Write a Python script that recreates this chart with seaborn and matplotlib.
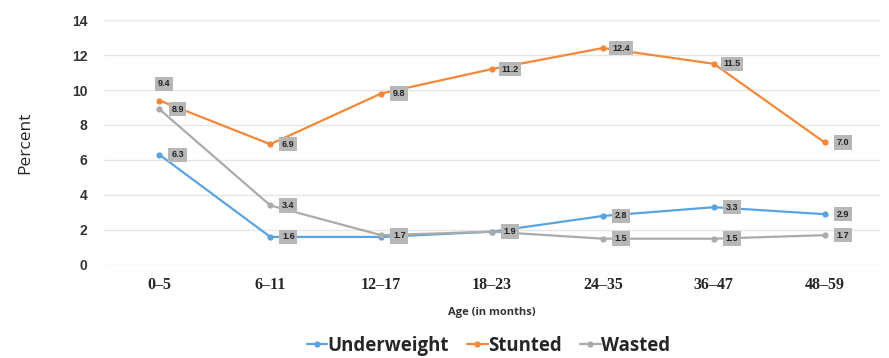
import matplotlib
matplotlib.use("Agg")
import matplotlib.pyplot as plt
import seaborn as sns
import pandas as pd

ages = ["0–5", "6–11", "12–17", "18–23", "24–35", "36–47", "48–59"]
underweight = [6.3, 1.6, 1.6, 1.9, 2.8, 3.3, 2.9]
stunted = [9.4, 6.9, 9.8, 11.2, 12.4, 11.5, 7.0]
wasted = [8.9, 3.4, 1.7, 1.9, 1.5, 1.5, 1.7]
series_names = ["Underweight", "Stunted", "Wasted"]
colors = ["#5BA3E0", "#F4883A", "#ABABAB"]

rows = []
for name, vals in zip(series_names, [underweight, stunted, wasted]):
    for i, (a, v) in enumerate(zip(ages, vals)):
        rows.append({"idx": i, "Age": a, "Percent": v, "Series": name})
df = pd.DataFrame(rows)

sns.set_style("white")
fig = plt.figure(figsize=(8.89, 3.58), dpi=100)
ax = fig.add_axes([0.117, 0.26, 0.873, 0.684])

sns.lineplot(data=df, x="idx", y="Percent", hue="Series", palette=colors,
             hue_order=series_names, marker="o", markersize=4.5,
             markeredgewidth=0, linewidth=1.6, ax=ax, legend=True)

ax.set_xlim(-0.5, 6.5)
ax.set_ylim(0, 14)
ax.set_yticks(range(0, 15, 2))
ax.set_xticks(range(len(ages)))
ax.set_xticklabels(ages, fontfamily="Liberation Serif", fontweight="bold", fontsize=11.5)
for t in ax.get_yticklabels():
    t.set_fontfamily("Liberation Sans")
    t.set_fontweight("bold")
    t.set_fontsize(10)
    t.set_color("#333333")
ax.tick_params(axis="x", length=0, pad=9)
ax.tick_params(axis="y", length=0, pad=12)
ax.grid(axis="y", color="#E6E6E6", linewidth=1)
for s in ax.spines.values():
    s.set_visible(False)

ax.set_xlabel("Age (in months)", fontfamily="Open Sans", fontweight="bold",
              fontsize=8, color="#333333", labelpad=10)
ax.set_ylabel("Percent", fontfamily="Open Sans", fontsize=12.5, labelpad=28)

# value labels in grey boxes beside each point
box = dict(boxstyle="square,pad=0.3", fc="#B7B7B7", ec="none")
for name, vals in zip(series_names, [underweight, stunted, wasted]):
    for i, v in enumerate(vals):
        if name == "Stunted" and i == 0:
            off = (3, 12)
        else:
            off = (13, 0)
        ax.annotate(f"{v:.1f}", (i, v), xytext=off, textcoords="offset points",
                    ha="center", va="center", fontsize=6.5, fontweight="bold",
                    fontfamily="Liberation Sans", color="#222222", bbox=box,
                    zorder=5)

handles, labels = ax.get_legend_handles_labels()
ax.legend(handles, labels, loc="center", bbox_to_anchor=(0.495, -0.33),
          ncol=3, frameon=False, handlelength=1.1, handletextpad=0.0,
          columnspacing=1.0, prop={"family": "Open Sans", "weight": "bold", "size": 13.4})

fig.savefig("out.png", dpi=100)
